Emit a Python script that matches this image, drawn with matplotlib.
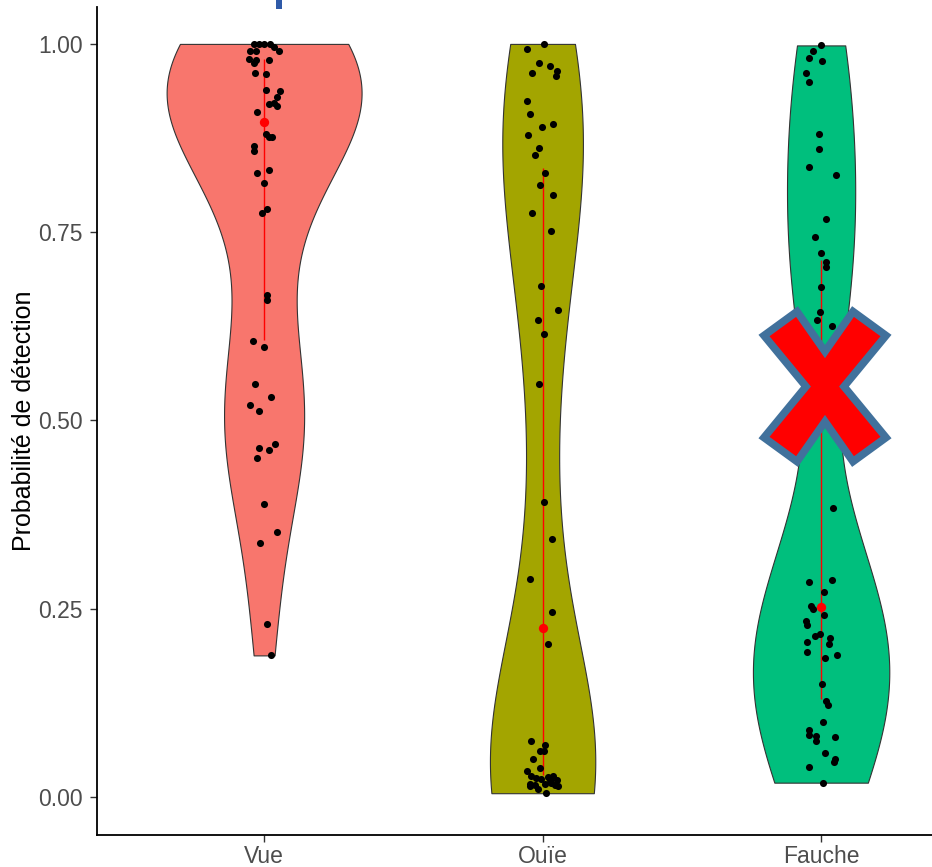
import numpy as np
import matplotlib
matplotlib.use("Agg")
import matplotlib.pyplot as plt
from matplotlib.patches import Polygon, Rectangle

plt.rcParams['font.family'] = ['Liberation Sans', 'DejaVu Sans']

# ---------------- data ----------------
categories = ["Vue", "Ouïe", "Fauche"]
fill_colors = ["#F8766D", "#A3A500", "#00BF7D"]

vue_values = [1.000, 1.000, 1.000, 1.000, 0.996, 0.991, 0.990, 0.991, 0.980, 0.978,
              0.974, 0.979, 0.962, 0.960, 0.939, 0.938, 0.929, 0.920, 0.917, 0.921,
              0.910, 0.881, 0.876, 0.877, 0.865, 0.858, 0.828, 0.833, 0.815, 0.775,
              0.781, 0.667, 0.660, 0.605, 0.597, 0.548, 0.531, 0.520, 0.513, 0.464,
              0.469, 0.461, 0.450, 0.389, 0.352, 0.337, 0.230, 0.188]
vue_jitter = [-0.038, -0.020, 0.000, 0.022, 0.036, 0.053, -0.050, -0.029, -0.054, -0.029,
              -0.038, 0.016, -0.031, 0.007, 0.008, 0.057, 0.045, 0.016, 0.048, 0.034,
              -0.026, 0.007, 0.028, 0.018, -0.036, -0.036, -0.024, 0.016, 0.000, -0.008,
              0.012, 0.012, 0.012, -0.041, 0.001, -0.031, 0.024, -0.050, -0.017, -0.017,
              0.038, 0.019, -0.026, 0.001, 0.047, -0.013, 0.010, 0.024]

ouie_values = [1.000, 0.993, 0.974, 0.970, 0.964, 0.958, 0.961, 0.924, 0.907, 0.894,
               0.889, 0.879, 0.862, 0.853, 0.828, 0.812, 0.799, 0.775, 0.751, 0.679,
               0.647, 0.633, 0.615, 0.549, 0.392, 0.342, 0.289, 0.246, 0.203, 0.074,
               0.069, 0.061, 0.061, 0.050, 0.039, 0.035, 0.028, 0.025, 0.024, 0.027,
               0.028, 0.023, 0.014, 0.016, 0.017, 0.018, 0.014, 0.010, 0.005, 0.017,
               0.023, 0.016]
ouie_jitter = [0.004, -0.056, -0.014, 0.026, 0.051, 0.047, -0.038, -0.056, -0.047, 0.037,
               -0.001, -0.051, -0.014, -0.029, 0.010, -0.011, 0.037, -0.038, 0.031, -0.007,
               0.055, -0.016, 0.004, -0.012, 0.004, 0.032, -0.047, 0.032, 0.018, -0.043,
               0.010, -0.011, 0.004, -0.035, -0.011, -0.056, -0.041, -0.023, -0.005, 0.019,
               0.037, 0.051, -0.047, -0.029, 0.007, 0.031, 0.055, -0.017, 0.013, -0.047,
               0.025, 0.043]

fauche_values = [0.998, 0.990, 0.981, 0.977, 0.961, 0.950, 0.881, 0.860, 0.836, 0.826,
                 0.767, 0.743, 0.722, 0.710, 0.704, 0.677, 0.644, 0.633, 0.626, 0.384,
                 0.286, 0.288, 0.272, 0.253, 0.249, 0.241, 0.234, 0.228, 0.214, 0.216,
                 0.211, 0.203, 0.206, 0.192, 0.185, 0.188, 0.150, 0.127, 0.122, 0.099,
                 0.089, 0.082, 0.081, 0.074, 0.080, 0.051, 0.047, 0.058, 0.040, 0.019]
fauche_jitter = [0.000, -0.028, -0.045, 0.005, -0.055, -0.045, -0.008, -0.008, -0.042, 0.053,
                 0.019, -0.023, 0.000, 0.019, 0.019, 0.000, -0.004, -0.014, 0.038, 0.042,
                 -0.045, 0.038, 0.011, -0.037, -0.028, 0.011, -0.056, -0.051, -0.022, -0.004,
                 0.032, 0.029, -0.051, -0.051, 0.014, 0.056, 0.002, 0.018, 0.023, 0.008,
                 -0.042, -0.045, -0.018, -0.018, 0.050, 0.050, 0.047, 0.014, -0.045, 0.008]

# summary (red point and red line)
summary_median = [0.896, 0.224, 0.252]
summary_low = [0.607, 0.029, 0.130]
summary_high = [0.980, 0.835, 0.713]

yticks = [0.00, 0.25, 0.50, 0.75, 1.00]
ytick_labels = ["0.00", "0.25", "0.50", "0.75", "1.00"]
ylabel = "Probabilité de détection"

groups = [vue_values, ouie_values, fauche_values]
jitters = [vue_jitter, ouie_jitter, fauche_jitter]

# ---------------- figure ----------------
W, H = 932, 867
fig = plt.figure(figsize=(W / 100, H / 100), dpi=100)
ax = fig.add_axes([97 / W, (H - 835) / H, (W - 97) / W, (835 - 7) / H])

positions = np.arange(1, len(categories) + 1)


def kde_nrd0(vals, grid):
    v = np.asarray(vals)
    n = len(v)
    sd = v.std(ddof=1)
    iqr = np.percentile(v, 75) - np.percentile(v, 25)
    bw = 0.9 * min(sd, iqr / 1.34) * n ** (-0.2)
    z = (grid[:, None] - v[None, :]) / bw
    return np.exp(-0.5 * z ** 2).sum(axis=1) / (n * bw * np.sqrt(2 * np.pi))


grids, dens = [], []
for vals in groups:
    g = np.linspace(min(vals), max(vals), 512)
    grids.append(g)
    dens.append(kde_nrd0(vals, g))
gmax = max(d.max() for d in dens)
violin_width = 0.70

for pos, g, d, col in zip(positions, grids, dens, fill_colors):
    hw = violin_width / 2 * d / gmax
    ax.fill_betweenx(g, pos - hw, pos + hw, facecolor=col, edgecolor="#333333",
                     linewidth=0.8, zorder=1)

# summary lines
ax.vlines(positions, summary_low, summary_high, color="red", linewidth=1.0, zorder=2)

# jittered points
for pos, vals, jit in zip(positions, groups, jitters):
    ax.scatter(pos + np.asarray(jit), vals, s=26, color="black", zorder=3, linewidths=0)

ax.scatter(positions, summary_median, s=45, color="red", zorder=4, linewidths=0)

# axes styling
ax.set_xlim(0.4, 0.4 + (W - 97) / 278.5)
ax.set_ylim(-0.0505, 1.049)
ax.set_xticks(positions)
ax.set_xticklabels(categories)
ax.set_yticks(yticks)
ax.set_yticklabels(ytick_labels)
ax.tick_params(axis="both", labelsize=16.5, labelcolor="#4D4D4D", color="#333333",
               length=5, width=1.0)
ax.tick_params(axis="y", pad=5)
ax.tick_params(axis="x", pad=2)
ax.set_ylabel(ylabel, fontsize=18, color="black", labelpad=2)
for s in ["top", "right"]:
    ax.spines[s].set_visible(False)
for s in ["left", "bottom"]:
    ax.spines[s].set_linewidth(1.3)
    ax.spines[s].set_color("black")
ax.set_facecolor("white")

# red cross annotation over "Fauche"
cx, cy = 3.014, 0.545
sx, sy = 1 / 278.5, 1 / 753.0  # one pixel in data units
cross = [(0, -35), (28, -75), (61, -51), (19, 0), (61, 51), (28, 75),
         (0, 35), (-28, 75), (-61, 51), (-19, 0), (-61, -51), (-28, -75)]
verts = [(cx + dx * sx, cy - dy * sy) for dx, dy in cross]
ax.add_patch(Polygon(verts, closed=True, facecolor="#FF0000", edgecolor="#41719C",
                     linewidth=5.5, joinstyle="miter", zorder=6))

# small blue mark at top edge
fig.patches.append(Rectangle((276 / W, (H - 8.5) / H), 6 / W, 8.5 / H,
                             transform=fig.transFigure, facecolor="#2F5AA8",
                             edgecolor="none"))

fig.savefig("out.png", dpi=100)
